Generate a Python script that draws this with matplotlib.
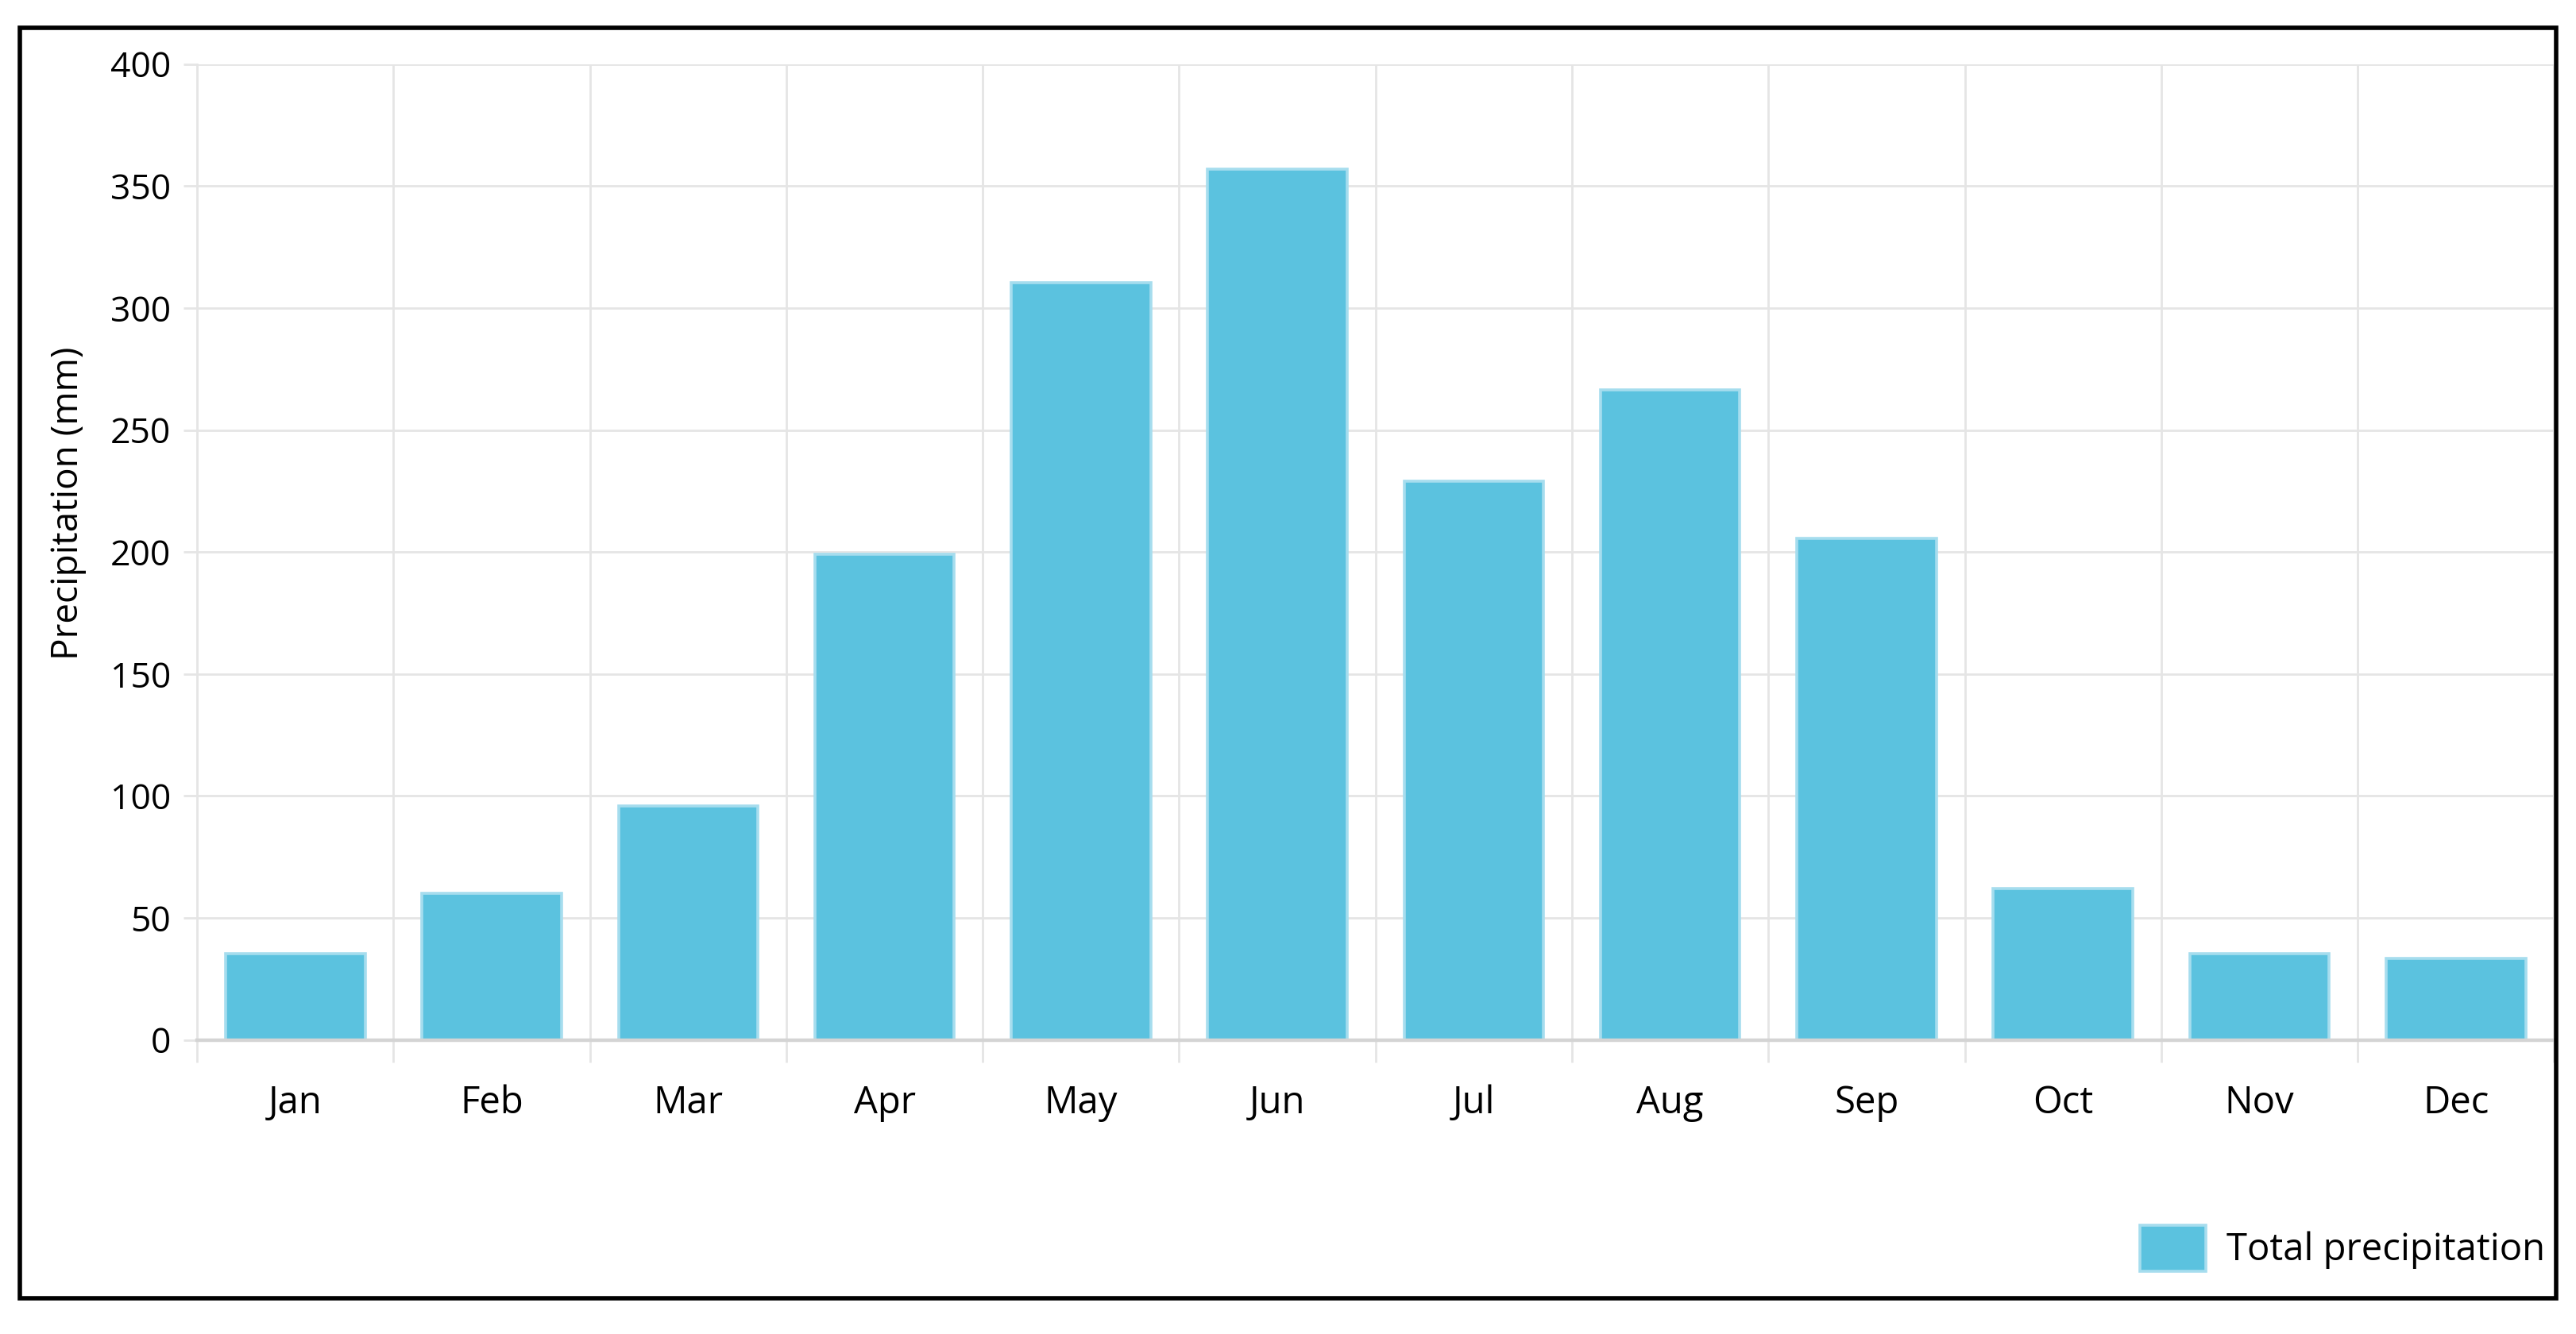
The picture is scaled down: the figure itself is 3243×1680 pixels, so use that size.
import matplotlib
matplotlib.use("Agg")
import matplotlib.pyplot as plt
from matplotlib.patches import Rectangle

plt.rcParams['font.family'] = ['Open Sans', 'DejaVu Sans']

# monthly totals
months = ['Jan', 'Feb', 'Mar', 'Apr', 'May', 'Jun',
          'Jul', 'Aug', 'Sep', 'Oct', 'Nov', 'Dec']
precip = [35.5, 60, 96, 199, 310.5, 357, 229, 266.5, 205.5, 62, 35.5, 33.5]
y_ticks = [0, 50, 100, 150, 200, 250, 300, 350, 400]

bar_color = '#5bc2df'
edge_color = '#a6ddee'
grid_color = '#e5e5e5'

fig = plt.figure(figsize=(16.215, 8.4), dpi=200)

# black frame round the whole chart
fig.patches.append(Rectangle((0.0077, 0.027), 0.9846, 0.952, transform=fig.transFigure,
                             fill=False, edgecolor='black', linewidth=2.0, zorder=10))

ax = fig.add_axes([0.0765, 0.2204, 0.915, 0.7316])

x = list(range(len(months)))
ax.bar(x, precip, width=0.71, color=bar_color, edgecolor=edge_color,
       linewidth=1.3, zorder=3, label='Total precipitation')

ax.set_xlim(-0.5, len(months) - 0.5)
ax.set_ylim(0, 400)
ax.set_yticks(y_ticks)
ax.set_yticklabels([str(v) for v in y_ticks], fontsize=16)

# category labels centred, boundary lines as gridlines
ax.set_xticks(x)
ax.set_xticklabels(months, fontsize=17)
ax.tick_params(axis='x', length=0, pad=20)
ax.set_xticks([i - 0.5 for i in range(len(months) + 1)], minor=True)
ax.tick_params(axis='x', which='minor', length=10, color=grid_color, width=1.0)
ax.grid(True, which='minor', axis='x', color=grid_color, linewidth=1.0, zorder=0)
ax.grid(True, which='major', axis='y', color=grid_color, linewidth=1.0, zorder=0)
ax.tick_params(axis='y', length=6, color=grid_color, width=1.0, pad=6)

for s in ['top', 'right']:
    ax.spines[s].set_visible(False)
ax.spines['left'].set_color(grid_color)
ax.spines['left'].set_linewidth(1.0)
ax.spines['bottom'].set_color('#d4d4d4')
ax.spines['bottom'].set_linewidth(1.6)
ax.spines['bottom'].set_zorder(4)

ax.set_ylabel('Precipitation (mm)', fontsize=16.5)
ax.yaxis.set_label_coords(-0.047, 0.55)

leg = fig.legend(loc='lower right', bbox_to_anchor=(1.001, 0.022), frameon=False,
                 fontsize=17, handlelength=1.75, handleheight=1.5, handletextpad=0.55)

fig.savefig('out.png', dpi=200)
